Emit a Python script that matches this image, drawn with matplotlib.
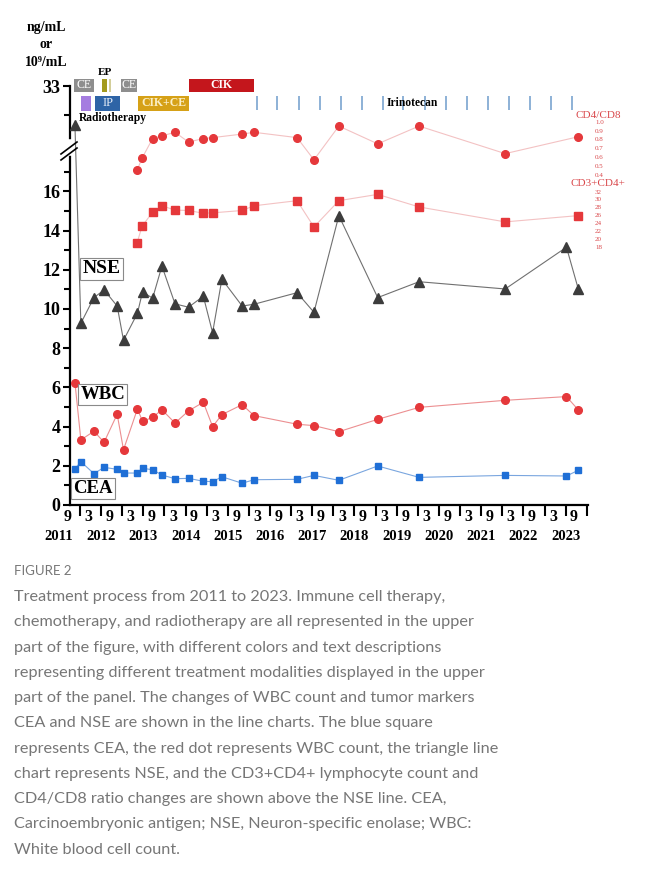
"""
Treatment timeline 2011-2023 with WBC, CEA, NSE and lymphocyte markers.
Output: out.png
"""

import numpy as np
import matplotlib.pyplot as plt
from matplotlib.transforms import blended_transform_factory

plt.rcParams["font.family"] = ["Liberation Serif", "DejaVu Serif"]

# ── data (dates as decimal years) ────────────────────────────────────────────
lab_dates = [2011.88, 2012.02, 2012.33, 2012.57, 2012.88, 2013.03, 2013.36, 2013.48,
             2013.72, 2013.94, 2014.25, 2014.57, 2014.92, 2015.14, 2015.36, 2015.84,
             2016.12, 2017.14, 2017.54, 2018.13, 2019.05, 2020.03, 2022.07, 2023.52,
             2023.80]
wbc = [6.24, 3.32, 3.76, 3.20, 4.63, 2.82, 4.90, 4.27, 4.47, 4.86, 4.18, 4.80, 5.24,
       4.00, 4.61, 5.12, 4.56, 4.12, 4.05, 3.74, 4.37, 4.98, 5.34, 5.53, 4.85]
cea = [1.84, 2.21, 1.60, 1.92, 1.82, 1.63, 1.63, 1.87, 1.80, 1.53, 1.34, 1.36, 1.21,
       1.19, 1.44, 1.11, 1.29, 1.31, 1.51, 1.26, 1.99, 1.41, 1.51, 1.48, 1.77]
nse = [31.0, 9.27, 10.58, 10.97, 10.15, 8.40, 9.78, 10.87, 10.55, 12.19, 10.26, 10.09,
       10.65, 8.79, 11.52, 10.15, 10.24, 10.83, 9.83, 14.76, 10.58, 11.39, 11.02, 13.15,
       11.02]

cd_dates = [2013.35, 2013.47, 2013.72, 2013.94, 2014.25, 2014.57, 2014.92, 2015.14,
            2015.84, 2016.12, 2017.14, 2017.54, 2018.13, 2019.05, 2020.03, 2022.07,
            2023.80]
cd3_cd4 = [18.9, 23.2, 26.8, 28.4, 27.3, 27.2, 26.5, 26.6, 27.2, 28.4, 29.7, 23.0,
           29.7, 31.3, 28.1, 24.3, 25.9]
cd4_cd8 = [0.45, 0.59, 0.81, 0.84, 0.88, 0.77, 0.81, 0.82, 0.86, 0.88, 0.82, 0.57,
           0.95, 0.75, 0.95, 0.64, 0.83]

# treatments
row1_names = ["CE", "EP", "CE", "CIK"]
row1_start = [2011.86, 2012.52, 2012.97, 2014.59]
row1_end = [2012.34, 2012.65, 2013.34, 2016.12]
row2_names = ["Radiotherapy", "IP", "CIK+CE"]
row2_start = [2012.02, 2012.36, 2013.37]
row2_end = [2012.25, 2012.95, 2014.58]
irinotecan = [2016.18, 2016.67, 2017.19, 2017.68, 2018.17, 2018.67, 2019.17, 2019.66,
              2020.16, 2020.66, 2021.16, 2021.66, 2022.16, 2022.66, 2023.16, 2023.66]

cd48_ticks = [0.4, 0.5, 0.6, 0.7, 0.8, 0.9, 1.0]
cd3_ticks = [18, 20, 22, 24, 26, 28, 30, 32]

# ── styling ──────────────────────────────────────────────────────────────────
RED = "#e5383b"
BLUE = "#1f6fd6"
DARK = "#3c3c3c"
treat_colors = {"CE": "#8e8e8e", "EP": "#a39a1e", "CIK": "#c4161c",
                "Radiotherapy": "#a57de0", "IP": "#2e64a6", "CIK+CE": "#d6a117"}

SHIFT = 11.63       # broken axis: values above the break are moved down by this
YTOP = 22.70        # displayed top of axes (below-break units)


def fwd(v):
    v = np.asarray(v, dtype=float)
    return np.where(v <= 18, v, np.maximum(v - SHIFT, 18))


def inv(y):
    y = np.asarray(y, dtype=float)
    return np.where(y <= 18, y, y + SHIFT)


W, H = 655, 885
fig = plt.figure(figsize=(W / 100, H / 100), dpi=100)
ax = fig.add_axes([70 / W, 1 - 505 / H, 518 / W, 445 / H])
ax.set_yscale("function", functions=(fwd, inv))
ax.set_xlim(2011.763, 2024.03)
ax.set_ylim(0, YTOP + SHIFT)

# ── lab series ───────────────────────────────────────────────────────────────
ax.plot(lab_dates, nse, color="#707070", lw=0.8, marker="^", ms=7.2,
        mfc=DARK, mec=DARK, zorder=3)
ax.plot(lab_dates, wbc, color="#ec8f91", lw=0.8, marker="o", ms=5.5,
        mfc=RED, mec=RED, zorder=3)
ax.plot(lab_dates, cea, color="#7aa6df", lw=0.8, marker="s", ms=4.6,
        mfc=BLUE, mec=BLUE, zorder=3)

# ── treatment bars ───────────────────────────────────────────────────────────
ROW1, ROW2 = 33.03, 32.13
for name, s, e in zip(row1_names, row1_start, row1_end):
    ax.barh(ROW1, e - s, left=s, height=0.71, color=treat_colors[name], zorder=2)
for name, s, e in zip(row2_names, row2_start, row2_end):
    ax.barh(ROW2, e - s, left=s, height=0.77, color=treat_colors[name], zorder=2)
ax.vlines(2012.70, ROW1 - 0.35, ROW1 + 0.35, color="#cfc98f", lw=1.3, zorder=2)
ax.vlines(irinotecan, ROW2 - 0.36, ROW2 + 0.36, color="#6f9ccb", lw=1.1, zorder=2)

bar_txt = dict(ha="center", va="center", fontsize=8.5, zorder=4)
ax.text((row1_start[0] + row1_end[0]) / 2, ROW1, "CE", color="white", **bar_txt)
ax.text((row1_start[2] + row1_end[2]) / 2, ROW1, "CE", color="white", **bar_txt)
ax.text((row1_start[3] + row1_end[3]) / 2, ROW1, "CIK", color="white",
        fontweight="bold", ha="center", va="center", fontsize=8.5)
ax.text((row1_start[1] + row1_end[1]) / 2, 33.69, "EP", fontweight="bold",
        ha="center", va="center", fontsize=8)
ax.text((row2_start[1] + row2_end[1]) / 2, ROW2, "IP", color="#e4ecf7",
        ha="center", va="center", fontsize=9)
ax.text((row2_start[2] + row2_end[2]) / 2, ROW2, "CIK+CE", color="#fbefc6",
        fontweight="bold", ha="center", va="center", fontsize=8.5)
ax.text(2011.98, 31.37, "Radiotherapy", fontweight="bold", ha="left",
        va="center", fontsize=8.3)
ax.text(2019.86, ROW2, "Irinotecan", fontweight="bold", ha="center",
        va="center", fontsize=8.3, zorder=4)

# ── series labels ────────────────────────────────────────────────────────────
box = dict(boxstyle="square,pad=0.12", fc="white", ec="#8a8a8a", lw=0.8)
ax.text(2012.51, 12.04, "NSE", fontweight="bold", fontsize=14, ha="center",
        va="center", bbox=box, zorder=4)
ax.text(2012.54, 5.64, "WBC", fontweight="bold", fontsize=13.5, ha="center",
        va="center", bbox=box, zorder=4)
ax.text(2012.30, 0.84, "CEA", fontweight="bold", fontsize=13.5, ha="center",
        va="center", bbox=box, zorder=4)

# ── y axis ───────────────────────────────────────────────────────────────────
yt = [0, 2, 4, 6, 8, 10, 12, 14, 16, 33]
ax.set_yticks(yt, labels=[str(t) for t in yt])
ax.set_yticks([1, 3, 5, 7, 9, 11, 13, 15, 17, 31.5], minor=True)
ax.tick_params(axis="y", which="major", direction="out", length=5, width=1.5,
               pad=2, labelsize=13)
ax.tick_params(axis="y", which="minor", direction="out", length=4, width=1.5)
for lab in ax.get_yticklabels():
    lab.set_fontweight("bold")
ax.spines["left"].set_bounds(0, 33)

# broken-axis marks
def px(x, y):
    return (x - 70) / 518, (505 - y) / 445

g0, g1 = px(70, 153), px(70, 142)
ax.plot([g0[0], g1[0]], [g0[1], g1[1]], color="white", lw=4,
        transform=ax.transAxes, clip_on=False, zorder=5)
for dy in (0, -6):
    a, b = px(61, 160 + dy), px(77, 148 + dy)
    ax.plot([a[0], b[0]], [a[1], b[1]], color="black", lw=1.2,
            transform=ax.transAxes, clip_on=False, zorder=6)

# ── x axis ───────────────────────────────────────────────────────────────────
ax.set_xticks(np.arange(2012, 2024.01, 0.5), labels=[])
ax.tick_params(axis="x", direction="out", length=8, width=1.5)
for s in ("top", "right"):
    ax.spines[s].set_visible(False)
for s in ("left", "bottom"):
    ax.spines[s].set_linewidth(1.6)

trans = blended_transform_factory(ax.transData, ax.transAxes)
for year in range(2011, 2024):
    for off, lab in ((0.2, "3"), (0.7, "9")):
        if year == 2011 and lab == "3":
            continue
        ax.text(year + off, -0.027, lab, transform=trans, ha="center", va="center",
                fontsize=11.5, fontweight="bold", clip_on=False)
    ax.text(year + 0.5, -0.07, str(year), transform=trans, ha="center",
            va="center", fontsize=10.5, fontweight="bold", clip_on=False)

# ── CD4/CD8 and CD3+CD4+ on their own scales ─────────────────────────────────
def twin_limits(v1, d1, v2, d2):
    k = (v2 - v1) / (d2 - d1)
    return v1 - d1 * k, v1 + (YTOP - d1) * k

tw48 = ax.twinx()
tw48.set_ylim(*twin_limits(0.4, 16.837, 1.0, 19.556))
tw48.plot(cd_dates, cd4_cd8, color="#f3c2c3", lw=0.8, marker="o", ms=5.5,
          mfc=RED, mec=RED)
tw48.set_yticks(cd48_ticks, labels=[f"{t:.1f}" for t in cd48_ticks])

tw3 = ax.twinx()
tw3.set_ylim(*twin_limits(18, 13.179, 32, 15.985))
tw3.plot(cd_dates, cd3_cd4, color="#f3c2c3", lw=0.8, marker="s", ms=5.2,
         mfc=RED, mec=RED)
tw3.set_yticks(cd3_ticks, labels=[str(t) for t in cd3_ticks])

for tw in (tw48, tw3):
    for s in tw.spines.values():
        s.set_visible(False)
    tw.tick_params(axis="y", length=0, pad=5, labelsize=5, labelcolor="#d9474a")

fig.text(598 / W, 1 - 116 / H, "CD4/CD8", color="#d9474a", fontsize=8,
         ha="center", va="center")
fig.text(598 / W, 1 - 184 / H, "CD3+CD4+", color="#d9474a", fontsize=8,
         ha="center", va="center")

# ── y axis header ────────────────────────────────────────────────────────────
for yy, txt in ((27, "ng/mL"), (45, "or"), (63, "10⁹/mL")):
    fig.text(46 / W, 1 - yy / H, txt, fontsize=10, fontweight="bold",
             ha="center", va="center")

# ── caption ──────────────────────────────────────────────────────────────────
caption = [
    "Treatment process from 2011 to 2023. Immune cell therapy,",
    "chemotherapy, and radiotherapy are all represented in the upper",
    "part of the figure, with different colors and text descriptions",
    "representing different treatment modalities displayed in the upper",
    "part of the panel. The changes of WBC count and tumor markers",
    "CEA and NSE are shown in the line charts. The blue square",
    "represents CEA, the red dot represents WBC count, the triangle line",
    "chart represents NSE, and the CD3+CD4+ lymphocyte count and",
    "CD4/CD8 ratio changes are shown above the NSE line. CEA,",
    "Carcinoembryonic antigen; NSE, Neuron-specific enolase; WBC:",
    "White blood cell count.",
]
fig.text(14 / W, 1 - 571 / H, "FIGURE 2", family="Lato", fontsize=9.5,
         color="#777777", ha="left", va="center")
for i, line in enumerate(caption):
    fig.text(14 / W, 1 - (597 + 25.26 * i) / H, line, family="Lato",
             fontsize=11.7, color="#767676", ha="left", va="center")

fig.savefig("out.png", dpi=100)
